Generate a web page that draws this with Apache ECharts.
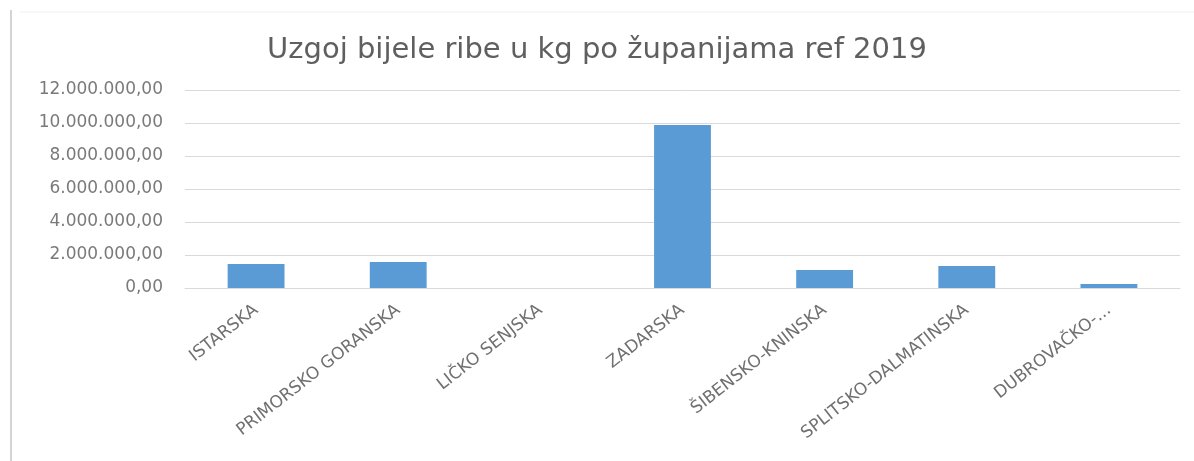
<!DOCTYPE html>
<html>
<head>
<meta charset="utf-8">
<script src="https://cdn.jsdelivr.net/npm/echarts@6/dist/echarts.min.js"></script>
<style>
html,body{margin:0;padding:0;background:#fff;}
#chart{width:1194px;height:461px;}
</style>
</head>
<body>
<div id="chart"></div>
<script>
var titleText = 'Uzgoj bijele ribe u kg po županijama ref 2019';
var categories = ['ISTARSKA', 'PRIMORSKO GORANSKA', 'LIČKO SENJSKA', 'ZADARSKA', 'ŠIBENSKO-KNINSKA', 'SPLITSKO-DALMATINSKA', 'DUBROVAČKO-NERETVANSKA'];
var values = [1450000, 1580000, 0, 9880000, 1090000, 1340000, 240000];
var yMin = 0, yMax = 12000000, yInterval = 2000000;

function fmt(v) {
  var s = Math.round(v).toString().replace(/\B(?=(\d{3})+(?!\d))/g, '.');
  return s + ',00';
}
function catLabel(v) {
  return v.length > 20 ? v.slice(0, 11) + '...' : v;
}

var chart = echarts.init(document.getElementById('chart'));
chart.setOption({
  animation: false,
  backgroundColor: '#ffffff',
  title: {
    text: titleText,
    left: 'center',
    top: 31,
    textStyle: { fontFamily: 'DejaVu Sans', fontSize: 29, fontWeight: 'normal', color: '#5f5f5f' }
  },
  graphic: [
    { type: 'line', shape: { x1: 11, y1: 10, x2: 11, y2: 461 }, style: { stroke: '#d4d4d4', lineWidth: 2 } },
    { type: 'line', shape: { x1: 20, y1: 12, x2: 1194, y2: 12 }, style: { stroke: '#efefef', lineWidth: 1 } }
  ],
  grid: { left: 185, right: 14, top: 90, bottom: 173 },
  xAxis: {
    type: 'category',
    data: categories,
    axisLine: { lineStyle: { color: '#d9d9d9' } },
    axisTick: { show: false },
    axisLabel: {
      rotate: 38,
      interval: 0,
      margin: 20,
      fontFamily: 'DejaVu Sans',
      fontSize: 17,
      color: '#707070',
      formatter: catLabel
    }
  },
  yAxis: {
    type: 'value',
    min: yMin,
    max: yMax,
    interval: yInterval,
    axisLine: { show: false },
    axisTick: { show: false },
    splitLine: { lineStyle: { color: '#d9d9d9' } },
    axisLabel: {
      margin: 22,
      fontFamily: 'DejaVu Sans',
      fontSize: 17,
      color: '#7a7a7a',
      formatter: fmt
    }
  },
  series: [{
    type: 'bar',
    data: values,
    barWidth: '40%',
    itemStyle: { color: '#5b9bd5' }
  }]
});
</script>
</body>
</html>
